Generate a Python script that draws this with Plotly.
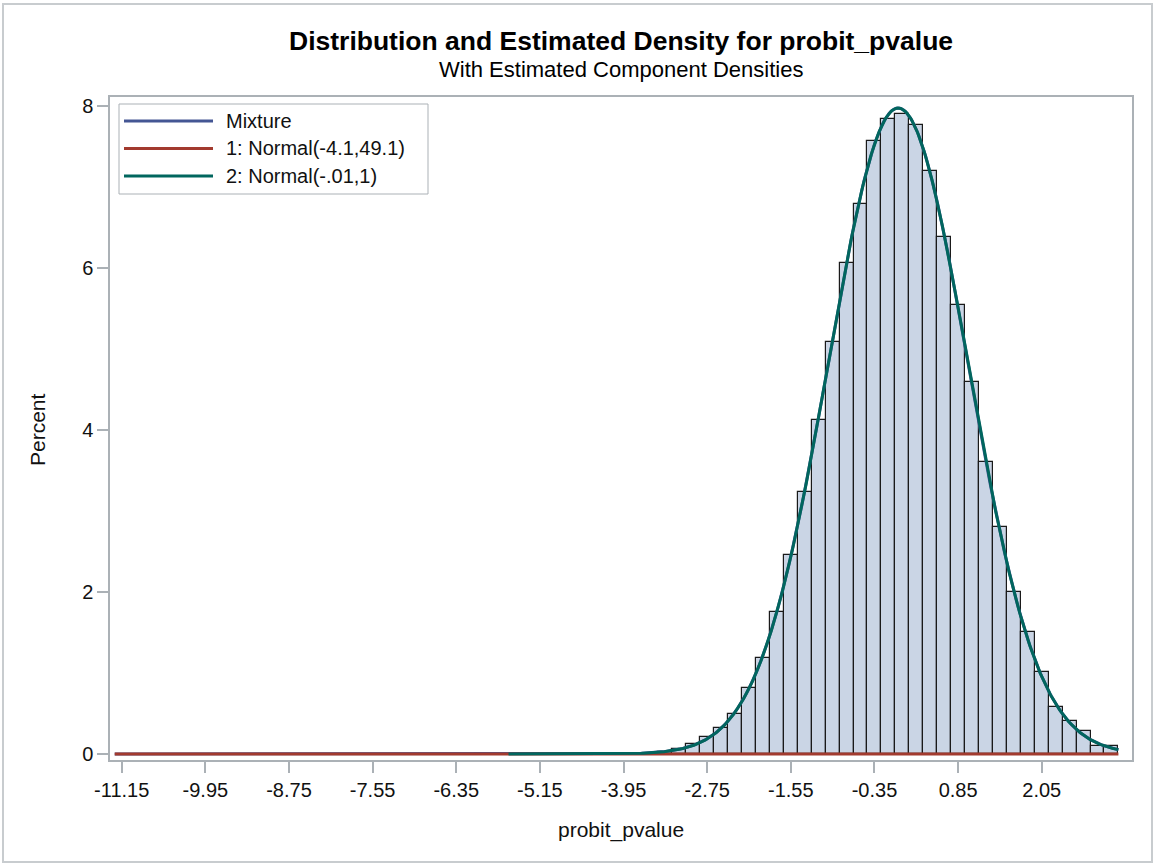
import numpy as np
import plotly.graph_objects as go

# Histogram of probit_pvalue: bin midpoints (width 0.2) and percent of observations
bin_mid = [-3.35, -3.15, -2.95, -2.75, -2.55, -2.35, -2.15, -1.95, -1.75, -1.55,
           -1.35, -1.15, -0.95, -0.75, -0.55, -0.35, -0.15, 0.05, 0.25, 0.45,
           0.65, 0.85, 1.05, 1.25, 1.45, 1.65, 1.85, 2.05, 2.25, 2.45,
           2.65, 2.85, 3.05]
pct = [0.03, 0.06, 0.12, 0.21, 0.32, 0.49, 0.82, 1.18, 1.75, 2.46,
       3.23, 4.12, 5.09, 6.06, 6.79, 7.56, 7.84, 7.90, 7.76, 7.19,
       6.38, 5.54, 4.59, 3.60, 2.80, 2.00, 1.50, 1.01, 0.58, 0.41,
       0.29, 0.10, 0.10]
bin_width = 0.2

# Fitted two-component normal mixture (mean, variance, weight)
comp_mean = [-4.1, -0.01]
comp_var = [49.1, 1.0]
comp_weight = [0.001, 0.999]
comp_names = ["1: Normal(-4.1,49.1)", "2: Normal(-.01,1)"]
comp_from = [-11.25, -5.6]
curve_to = 3.15

# Axis tick labels
x_ticks = [-11.15, -9.95, -8.75, -7.55, -6.35, -5.15, -3.95, -2.75, -1.55, -0.35, 0.85, 2.05]
x_tick_text = ["-11.15", "-9.95", "-8.75", "-7.55", "-6.35", "-5.15", "-3.95",
               "-2.75", "-1.55", "-0.35", "0.85", "2.05"]
y_ticks = [0, 2, 4, 6, 8]

FONT = "Liberation Sans, Arial, sans-serif"
C_MIX, C_ONE, C_TWO = "#445694", "#A23A2E", "#01665E"
GRAY = "#ABB1B6"


def npdf(x, m, v):
    return np.exp(-(x - m) ** 2 / (2 * v)) / np.sqrt(2 * np.pi * v)


def to_pct(dens):
    return dens * bin_width * 100


fig = go.Figure()
fig.add_trace(go.Bar(
    x=bin_mid, y=pct, width=bin_width,
    marker=dict(color="#CAD5E5", line=dict(color="#1a1a1a", width=1.2)),
    name="probit_pvalue", showlegend=False,
))

# Mixture curve
xm = np.linspace(comp_from[0], curve_to, 600)
mix = sum(w * npdf(xm, m, v) for m, v, w in zip(comp_mean, comp_var, comp_weight))
fig.add_trace(go.Scatter(x=xm, y=to_pct(mix), mode="lines",
                         line=dict(color=C_MIX, width=3), name="Mixture", showlegend=False))

# Component curves
for m, v, w, nm, start, col in zip(comp_mean, comp_var, comp_weight, comp_names,
                                   comp_from, [C_ONE, C_TWO]):
    xc = np.linspace(start, curve_to, 600)
    fig.add_trace(go.Scatter(x=xc, y=to_pct(w * npdf(xc, m, v)), mode="lines",
                             line=dict(color=col, width=3), name=nm, showlegend=False))

# Plot-area geometry in pixels
W, H = 1155, 865
L, R, T, B = 110, 1132, 97, 760
PW, PH = R - L, B - T


def px(xpix):
    return (xpix - L) / PW


def py(ypix):
    return (B - ypix) / PH


shapes = []
annotations = []

# Legend box with line samples
shapes.append(dict(type="rect", xref="paper", yref="paper",
                   x0=px(119), x1=px(428), y0=py(194), y1=py(104),
                   line=dict(color=GRAY, width=1), fillcolor="white", layer="above"))
legend_rows = [("Mixture", C_MIX), (comp_names[0], C_ONE), (comp_names[1], C_TWO)]
for i, (label, col) in enumerate(legend_rows):
    yrow = 121 + i * 27.5
    shapes.append(dict(type="line", xref="paper", yref="paper",
                       x0=px(124), x1=px(213), y0=py(yrow), y1=py(yrow),
                       line=dict(color=col, width=3), layer="above"))
    annotations.append(dict(text=label, xref="paper", yref="paper", x=px(224), y=py(yrow),
                            xanchor="left", yanchor="middle", showarrow=False,
                            font=dict(family=FONT, size=20, color="#111")))

# Outer border of the graph
shapes.append(dict(type="rect", xref="paper", yref="paper",
                   x0=px(3), x1=px(1152), y0=py(862), y1=py(4),
                   line=dict(color="#C8CCCF", width=2), layer="below"))

# Titles
annotations.append(dict(text="<b>Distribution and Estimated Density for probit_pvalue</b>",
                        xref="paper", yref="paper", x=0.5, y=py(41),
                        xanchor="center", yanchor="middle", showarrow=False,
                        font=dict(family=FONT, size=26.5, color="#000")))
annotations.append(dict(text="With Estimated Component Densities",
                        xref="paper", yref="paper", x=0.5, y=py(70),
                        xanchor="center", yanchor="middle", showarrow=False,
                        font=dict(family=FONT, size=22, color="#000")))
annotations.append(dict(text="probit_pvalue", xref="paper", yref="paper",
                        x=0.5, y=py(830), xanchor="center", yanchor="middle",
                        showarrow=False, font=dict(family=FONT, size=21, color="#111")))
annotations.append(dict(text="Percent", xref="paper", yref="paper",
                        x=px(37), y=py(430), xanchor="center", yanchor="middle",
                        textangle=-90, showarrow=False,
                        font=dict(family=FONT, size=21, color="#111")))

x0v, x1v = -11.15 - (121.7 - L) / 69.7, -11.15 + (R - 121.7) / 69.7
y0v, y1v = -(B - 754) / 81.04, 8 + (105.7 - T) / 81.04

fig.update_layout(
    width=W, height=H,
    margin=dict(l=L, r=W - R, t=T, b=H - B, pad=0),
    paper_bgcolor="white", plot_bgcolor="white",
    font=dict(family=FONT, size=20, color="#111"),
    bargap=0,
    showlegend=False,
    shapes=shapes, annotations=annotations,
    xaxis=dict(range=[x0v, x1v], tickvals=x_ticks, ticktext=x_tick_text,
               ticks="outside", ticklen=11, tickwidth=2, tickcolor=GRAY,
               showline=True, mirror=True, linecolor=GRAY, linewidth=1.5,
               showgrid=False, zeroline=False,
               tickfont=dict(family=FONT, size=20, color="#111")),
    yaxis=dict(range=[y0v, y1v], tickvals=y_ticks,
               ticks="outside", ticklen=11, tickwidth=2, tickcolor=GRAY,
               showline=True, mirror=True, linecolor=GRAY, linewidth=1.5,
               showgrid=False, zeroline=False,
               tickfont=dict(family=FONT, size=20, color="#111")),
)

fig.write_html("out.html")
